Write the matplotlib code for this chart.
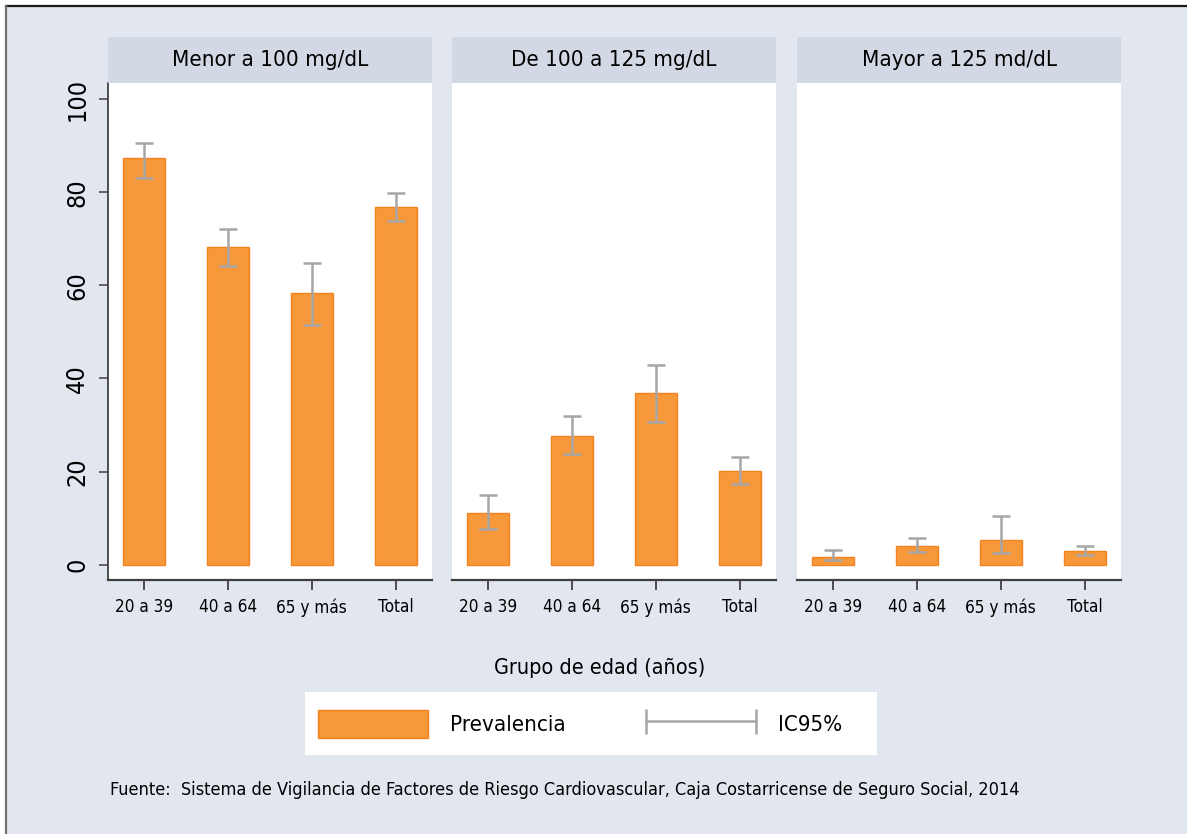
import matplotlib
matplotlib.use("Agg")
import matplotlib.pyplot as plt
import numpy as np
from matplotlib.patches import Patch, Rectangle
from matplotlib.lines import Line2D
from matplotlib.legend_handler import HandlerLine2D

plt.rcParams['font.family'] = ['DejaVu Sans']
plt.rcParams['font.stretch'] = 'condensed'

groups = ['20 a 39', '40 a 64', '65 y más', 'Total']
panel_titles = ['Menor a 100 mg/dL', 'De 100 a 125 mg/dL', 'Mayor a 125 md/dL']

# prevalence (%) with 95% CI, by fasting glucose level
prev_menor = [87.4, 68.2, 58.3, 76.9]
low_menor = [83.1, 64.1, 51.4, 73.9]
high_menor = [90.6, 72.2, 64.9, 79.9]

prev_medio = [11.0, 27.7, 36.8, 20.1]
low_medio = [7.7, 23.7, 30.6, 17.3]
high_medio = [15.0, 31.9, 42.9, 23.1]

prev_mayor = [1.7, 3.9, 5.2, 2.9]
low_mayor = [0.9, 2.7, 2.5, 2.1]
high_mayor = [3.1, 5.7, 10.5, 4.0]

y_ticks = [0, 20, 40, 60, 80, 100]

bg = '#e1e6ef'
strip = '#d3d9e4'
bar_col = '#f7993a'
bar_edge = '#f58220'
ci_col = '#a6a6a6'
axis_col = '#404040'

W, H = 1187, 834
fig = plt.figure(figsize=(W / 100, H / 100), dpi=100)
fig.patch.set_facecolor('white')

# light background with the frame lines on top and left
fig.add_artist(Rectangle((6 / W, 0), 1 - 6 / W, 1 - 6 / H, transform=fig.transFigure,
                         facecolor=bg, edgecolor='none', zorder=-10))
fig.add_artist(Line2D([6 / W, 1], [1 - 6 / H, 1 - 6 / H], transform=fig.transFigure,
                      color='#1a1a1a', lw=1.6))
fig.add_artist(Line2D([6 / W, 6 / W], [0, 1 - 6 / H], transform=fig.transFigure,
                      color='#707070', lw=1.6))

data = [
    (prev_menor, low_menor, high_menor),
    (prev_medio, low_medio, high_medio),
    (prev_mayor, low_mayor, high_mayor),
]
lefts = [108, 452, 797]
pw = 324
ax_bottom = 1 - 579.5 / H
ax_top = 1 - 83 / H
strip_top = 1 - 37 / H

x = np.arange(len(groups))
for i, (vals, lo, hi) in enumerate(data):
    ax = fig.add_axes([lefts[i] / W, ax_bottom, pw / W, ax_top - ax_bottom])
    ax.set_facecolor('white')
    vals = np.array(vals)
    ax.bar(x, vals, width=0.5, color=bar_col, edgecolor=bar_edge, linewidth=1.0, zorder=2)
    yerr = [vals - np.array(lo), np.array(hi) - vals]
    ax.errorbar(x, vals, yerr=yerr, fmt='none', ecolor=ci_col, elinewidth=1.8,
                capsize=6.5, capthick=1.8, zorder=3)
    ax.set_xlim(-0.435, 3.435)
    ax.set_ylim(-3.2, 103.5)
    ax.set_xticks(x)
    ax.set_xticklabels(groups, fontsize=12.3)
    for s in ['top', 'right']:
        ax.spines[s].set_visible(False)
    ax.spines['bottom'].set_color(axis_col)
    ax.spines['bottom'].set_linewidth(1.6)
    ax.tick_params(axis='x', length=7.5, width=1.3, color=axis_col, pad=6)
    if i == 0:
        ax.spines['left'].set_color(axis_col)
        ax.spines['left'].set_linewidth(1.3)
        ax.set_yticks(y_ticks)
        ax.set_yticklabels([str(t) for t in y_ticks], fontsize=18, rotation=90, va='center')
        ax.tick_params(axis='y', length=6.5, width=1.1, color=axis_col, pad=7)
    else:
        ax.spines['left'].set_visible(False)
        ax.set_yticks([])

    # header strip with the panel title
    sax = fig.add_axes([lefts[i] / W, ax_top, pw / W, strip_top - ax_top])
    sax.set_facecolor(strip)
    sax.set_xticks([])
    sax.set_yticks([])
    for s in sax.spines.values():
        s.set_visible(False)
    sax.text(0.5, 0.5, panel_titles[i], ha='center', va='center', fontsize=16,
             transform=sax.transAxes)

fig.text(600 / W, 1 - 668 / H, 'Grupo de edad (años)', ha='center', va='center', fontsize=15.5)

# legend on a white box
fig.add_artist(Rectangle((305 / W, 1 - 755 / H), (877 - 305) / W, (755 - 692) / H,
                         transform=fig.transFigure, facecolor='white', edgecolor='none'))
h_bar = Patch(facecolor=bar_col, edgecolor=bar_edge, linewidth=1.0)
h_ci = Line2D([], [], color=ci_col, lw=1.8, marker='|', markersize=18, mew=1.8)
fig.legend([h_bar, h_ci], ['Prevalencia', 'IC95%'], ncol=2, frameon=False,
           loc='center left', bbox_to_anchor=(318 / W, 1 - 724 / H), fontsize=16,
           handlelength=4.95, handleheight=1.53, handletextpad=1.0, columnspacing=3.6,
           borderpad=0, borderaxespad=0, numpoints=2,
           handler_map={h_ci: HandlerLine2D(marker_pad=0, numpoints=2)})

fig.text(110 / W, 1 - 790 / H,
         'Fuente:  Sistema de Vigilancia de Factores de Riesgo Cardiovascular, '
         'Caja Costarricense de Seguro Social, 2014',
         ha='left', va='center', fontsize=13)

fig.savefig('out.png', dpi=100, facecolor=fig.get_facecolor())
